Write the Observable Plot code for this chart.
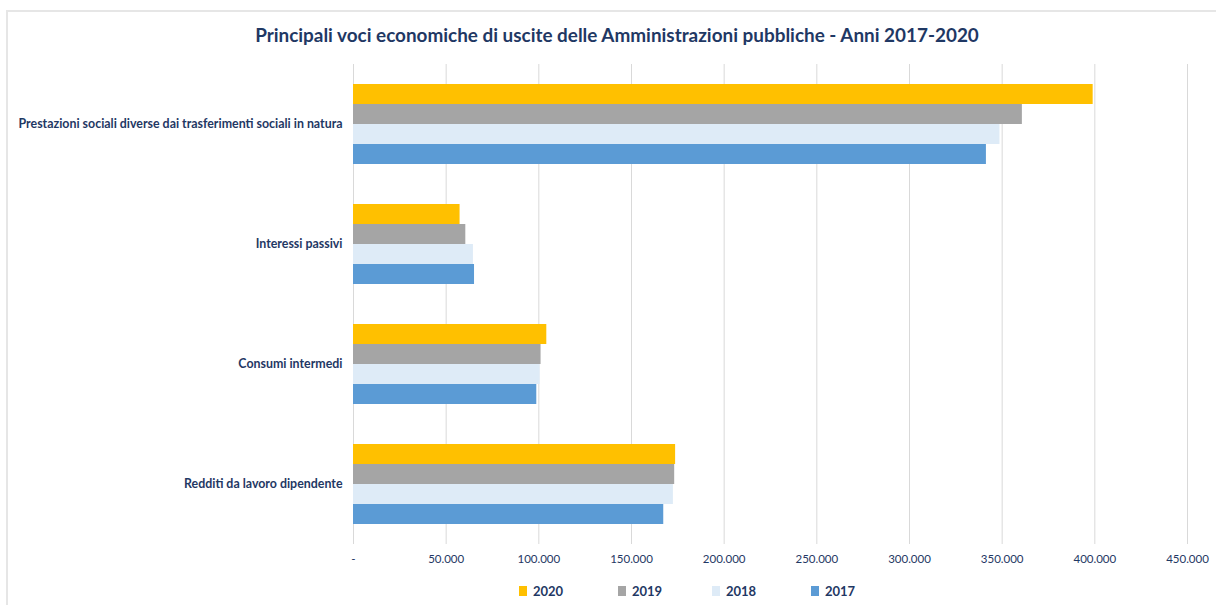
<!DOCTYPE html>
<html>
<head>
<meta charset="utf-8">
<script src="https://cdn.jsdelivr.net/npm/d3@7"></script>
<script src="https://cdn.jsdelivr.net/npm/@observablehq/plot@0.6"></script>
<style>
  body { margin: 0; background: #fff; font-family: Lato, "DejaVu Sans Condensed", sans-serif; }
  #wrap { position: relative; width: 1216px; height: 605px; overflow: hidden; }
  #frame { position: absolute; left: 6px; top: 10px; width: 1300px; height: 700px; border: 2px solid #E6E6E6; box-sizing: border-box; pointer-events: none; }
  #title { height: 50px; box-sizing: border-box; padding-top: 24px; padding-left: 18px; text-align: center; font-weight: bold; font-size: 18.9px; color: #1F3864; line-height: 22px; }
  #legend { position: relative; height: 30px; }
  .li { position: absolute; top: 8px; display: flex; align-items: center; font-weight: bold; font-size: 13px; color: #1F3864; }
  .sw { width: 8px; height: 10px; margin-right: 6px; }
</style>
</head>
<body>
<div id="wrap">
  <div id="frame"></div>
  <div id="title"></div>
  <div id="chart"></div>
  <div id="legend"></div>
</div>
<script>
const title = "Principali voci economiche di uscite delle Amministrazioni pubbliche - Anni 2017-2020";
const categories = [
  "Prestazioni sociali diverse dai trasferimenti sociali in natura",
  "Interessi passivi",
  "Consumi intermedi",
  "Redditi da lavoro dipendente"
];
const years = ["2020", "2019", "2018", "2017"];
const colors = ["#FFC000", "#A5A5A5", "#DEEBF7", "#5B9BD5"];
// values in millions of euro, per year, in category order
const values2020 = [399100, 57500, 104300, 173800];
const values2019 = [360900, 60600, 101200, 173300];
const values2018 = [348800, 64700, 100700, 172600];
const values2017 = [341500, 65300, 98900, 167400];
const xTicks = [0, 50000, 100000, 150000, 200000, 250000, 300000, 350000, 400000, 450000];

const series = [values2020, values2019, values2018, values2017];
const data = [];
categories.forEach((c, i) => {
  years.forEach((y, j) => data.push({category: c, year: y, value: series[j][i]}));
});

document.getElementById("title").textContent = title;

const fmt = v => v === 0 ? "-" : d3.format(",")(v).replace(/,/g, ".");

const chart = Plot.plot({
  width: 1216,
  height: 525,
  marginLeft: 353,
  marginRight: 29,
  marginTop: 14,
  marginBottom: 31,
  style: {fontFamily: "Lato, 'DejaVu Sans Condensed', sans-serif", color: "#1F3864", background: "transparent"},
  x: {domain: [0, 450000], ticks: xTicks, label: null},
  y: {domain: years, padding: 0, paddingOuter: 0.9, axis: null},
  fy: {domain: categories, padding: 0, label: null},
  color: {domain: years, range: colors},
  marks: [
    Plot.gridX(xTicks, {stroke: "#D9D9D9", strokeOpacity: 1, strokeWidth: 1}),
    Plot.barX(data, {x: "value", y: "year", fy: "category", fill: "year"}),
    Plot.axisX(xTicks, {tickSize: 0, tickPadding: 10, tickFormat: fmt, fontSize: 11.5, fill: "#1F3864", label: null, anchor: "bottom", facetAnchor: "bottom"}),
    Plot.axisFy({anchor: "left", tickSize: 0, tickPadding: 11, fontSize: 12.4, fontWeight: "bold", fill: "#1F3864", label: null})
  ]
});
document.getElementById("chart").appendChild(chart);

const legend = document.getElementById("legend");
const lx = [519, 618, 712, 811];
years.forEach((y, i) => {
  const d = document.createElement("div");
  d.className = "li";
  d.style.left = lx[i] + "px";
  d.innerHTML = `<span class="sw" style="background:${colors[i]}"></span><span>${y}</span>`;
  legend.appendChild(d);
});
</script>
</body>
</html>
